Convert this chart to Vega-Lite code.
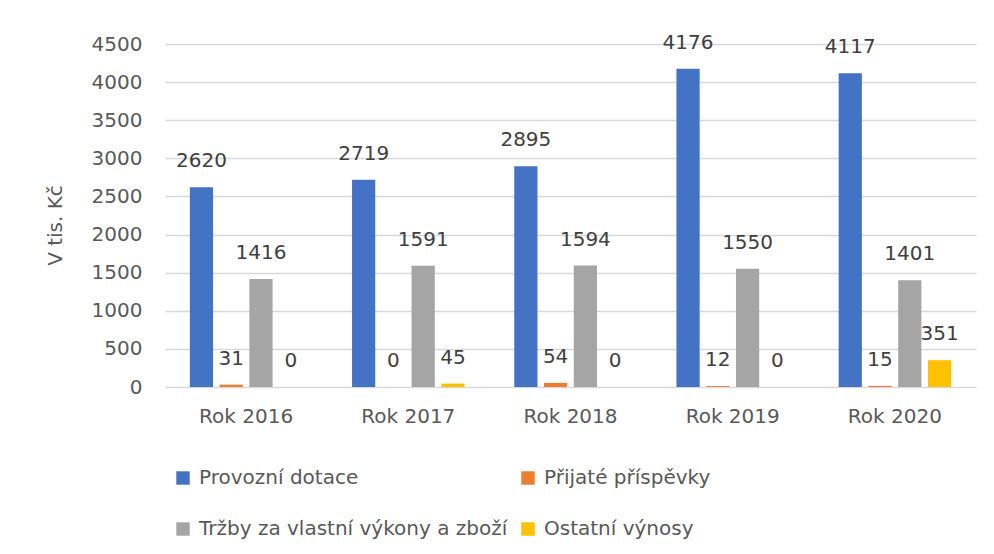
{
  "$schema": "https://vega.github.io/schema/vega-lite/v6.json",
  "autosize": {"type": "none"},
  "width": 811,
  "height": 343,
  "padding": {"left": 165, "top": 44, "right": 18, "bottom": 167},
  "background": "white",
  "config": {
    "font": "DejaVu Sans",
    "view": {"stroke": null}
  },
  "data": {
    "values": [
      {"rok": "Rok 2016", "serie": "Provozní dotace", "hodnota": 2620},
      {"rok": "Rok 2016", "serie": "Přijaté příspěvky", "hodnota": 31},
      {"rok": "Rok 2016", "serie": "Tržby za vlastní výkony a zboží", "hodnota": 1416},
      {"rok": "Rok 2016", "serie": "Ostatní výnosy", "hodnota": 0},
      {"rok": "Rok 2017", "serie": "Provozní dotace", "hodnota": 2719},
      {"rok": "Rok 2017", "serie": "Přijaté příspěvky", "hodnota": 0},
      {"rok": "Rok 2017", "serie": "Tržby za vlastní výkony a zboží", "hodnota": 1591},
      {"rok": "Rok 2017", "serie": "Ostatní výnosy", "hodnota": 45},
      {"rok": "Rok 2018", "serie": "Provozní dotace", "hodnota": 2895},
      {"rok": "Rok 2018", "serie": "Přijaté příspěvky", "hodnota": 54},
      {"rok": "Rok 2018", "serie": "Tržby za vlastní výkony a zboží", "hodnota": 1594},
      {"rok": "Rok 2018", "serie": "Ostatní výnosy", "hodnota": 0},
      {"rok": "Rok 2019", "serie": "Provozní dotace", "hodnota": 4176},
      {"rok": "Rok 2019", "serie": "Přijaté příspěvky", "hodnota": 12},
      {"rok": "Rok 2019", "serie": "Tržby za vlastní výkony a zboží", "hodnota": 1550},
      {"rok": "Rok 2019", "serie": "Ostatní výnosy", "hodnota": 0},
      {"rok": "Rok 2020", "serie": "Provozní dotace", "hodnota": 4117},
      {"rok": "Rok 2020", "serie": "Přijaté příspěvky", "hodnota": 15},
      {"rok": "Rok 2020", "serie": "Tržby za vlastní výkony a zboží", "hodnota": 1401},
      {"rok": "Rok 2020", "serie": "Ostatní výnosy", "hodnota": 351}
    ]
  },
  "encoding": {
    "x": {
      "field": "rok", "type": "nominal", "title": null,
      "scale": {"paddingInner": 0.266, "paddingOuter": 0.133},
      "axis": {"labelAngle": 0, "domain": false, "ticks": false, "labelFontSize": 20, "labelColor": "#595959", "labelPadding": 19, "grid": false}
    },
    "xOffset": {
      "field": "serie", "type": "nominal",
      "sort": ["Provozní dotace", "Přijaté příspěvky", "Tržby za vlastní výkony a zboží", "Ostatní výnosy"],
      "scale": {"paddingInner": 0.22, "paddingOuter": 0.11}
    },
    "y": {
      "field": "hodnota", "type": "quantitative", "title": "V tis. Kč",
      "scale": {"domain": [0, 4500], "nice": false},
      "axis": {
        "values": [0, 500, 1000, 1500, 2000, 2500, 3000, 3500, 4000, 4500],
        "format": "d",
        "domain": false, "ticks": false, "labelFontSize": 20, "labelColor": "#595959", "labelPadding": 23,
        "gridColor": "#d9d9d9", "gridWidth": 1.5,
        "titleFontSize": 20, "titleFontWeight": "normal", "titleColor": "#595959", "titlePadding": 26, "titleY": 181
      }
    }
  },
  "layer": [
    {
      "mark": {"type": "bar"},
      "encoding": {
        "color": {
          "field": "serie", "type": "nominal", "title": null,
          "sort": ["Provozní dotace", "Přijaté příspěvky", "Tržby za vlastní výkony a zboží", "Ostatní výnosy"],
          "scale": {
            "domain": ["Provozní dotace", "Přijaté příspěvky", "Tržby za vlastní výkony a zboží", "Ostatní výnosy"],
            "range": ["#4472C4", "#ED7D31", "#A5A5A5", "#FFC000"]
          },
          "legend": {
            "orient": "none", "legendX": 8, "legendY": 424, "direction": "horizontal",
            "columns": 2, "columnPadding": 10, "rowPadding": 31,
            "symbolType": "square", "symbolSize": 180, "symbolStrokeWidth": 0,
            "labelFontSize": 20, "labelColor": "#595959", "labelOffset": 6, "labelLimit": 500
          }
        }
      }
    },
    {
      "mark": {"type": "text", "baseline": "alphabetic", "dy": -20, "fontSize": 20, "color": "#404040"},
      "encoding": {
        "text": {"field": "hodnota", "type": "quantitative"}
      }
    }
  ]
}
